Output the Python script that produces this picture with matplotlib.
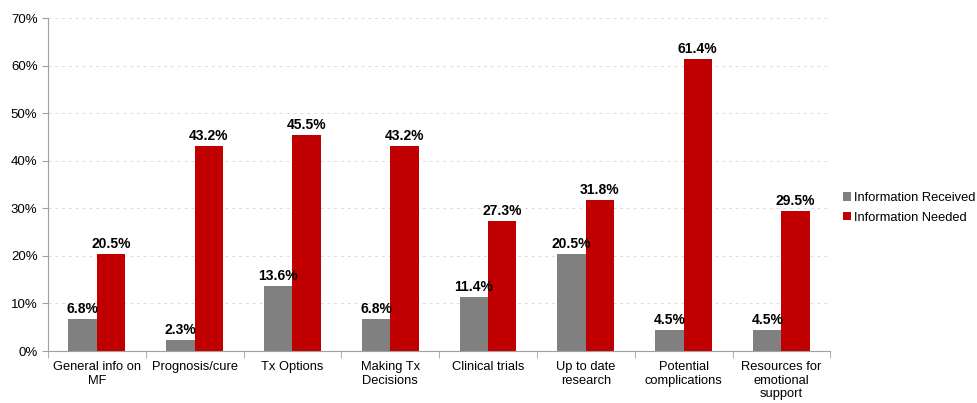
import matplotlib.pyplot as plt
import numpy as np

plt.rcParams['font.family'] = ['Liberation Sans', 'DejaVu Sans']

categories = ['General info on\nMF', 'Prognosis/cure', 'Tx Options', 'Making Tx\nDecisions',
              'Clinical trials', 'Up to date\nresearch', 'Potential\ncomplications',
              'Resources for\nemotional\nsupport']
received = [6.8, 2.3, 13.6, 6.8, 11.4, 20.5, 4.5, 4.5]
needed = [20.5, 43.2, 45.5, 43.2, 27.3, 31.8, 61.4, 29.5]

fig = plt.figure(figsize=(9.78, 4.03), dpi=100)
ax = fig.add_axes([0.049, 0.129, 0.800, 0.826])

x = np.arange(len(categories))
w = 0.29
b1 = ax.bar(x - w/2, received, w, color='#808080', label='Information Received')
b2 = ax.bar(x + w/2, needed, w, color='#C00000', label='Information Needed')

for bars, vals in ((b1, received), (b2, needed)):
    for r, v in zip(bars, vals):
        ax.text(r.get_x() + r.get_width()/2, v + 0.6, f'{v:.1f}%', ha='center', va='bottom',
                fontsize=10, fontweight='bold')

ax.set_xlim(-0.5, len(categories) - 0.5)
ax.set_ylim(0, 70)
ax.set_yticks(np.arange(0, 71, 10))
ax.set_yticklabels([f'{t}%' for t in range(0, 71, 10)], fontsize=9.5)
ax.yaxis.grid(True, linestyle=(0, (3, 4)), color='#dcdcdc', linewidth=0.7)
ax.set_axisbelow(True)

ax.set_xticks(x)
ax.set_xticklabels(categories, fontsize=9.3, va='top')
ax.tick_params(axis='x', length=0, pad=7)
ax.set_xticks(np.arange(-0.5, len(categories), 1), minor=True)
ax.tick_params(axis='x', which='minor', length=5, color='#a0a0a0')
ax.tick_params(axis='y', length=4, color='#a0a0a0')

for s in ['top', 'right']:
    ax.spines[s].set_visible(False)
for s in ['left', 'bottom']:
    ax.spines[s].set_color('#a0a0a0')

ax.legend(loc='center left', bbox_to_anchor=(1.006, 0.43), frameon=False, fontsize=9.3,
          handlelength=0.6, handleheight=0.6, handletextpad=0.3, labelspacing=0.6,
          borderaxespad=0.2)

fig.savefig('out.png', dpi=100)
